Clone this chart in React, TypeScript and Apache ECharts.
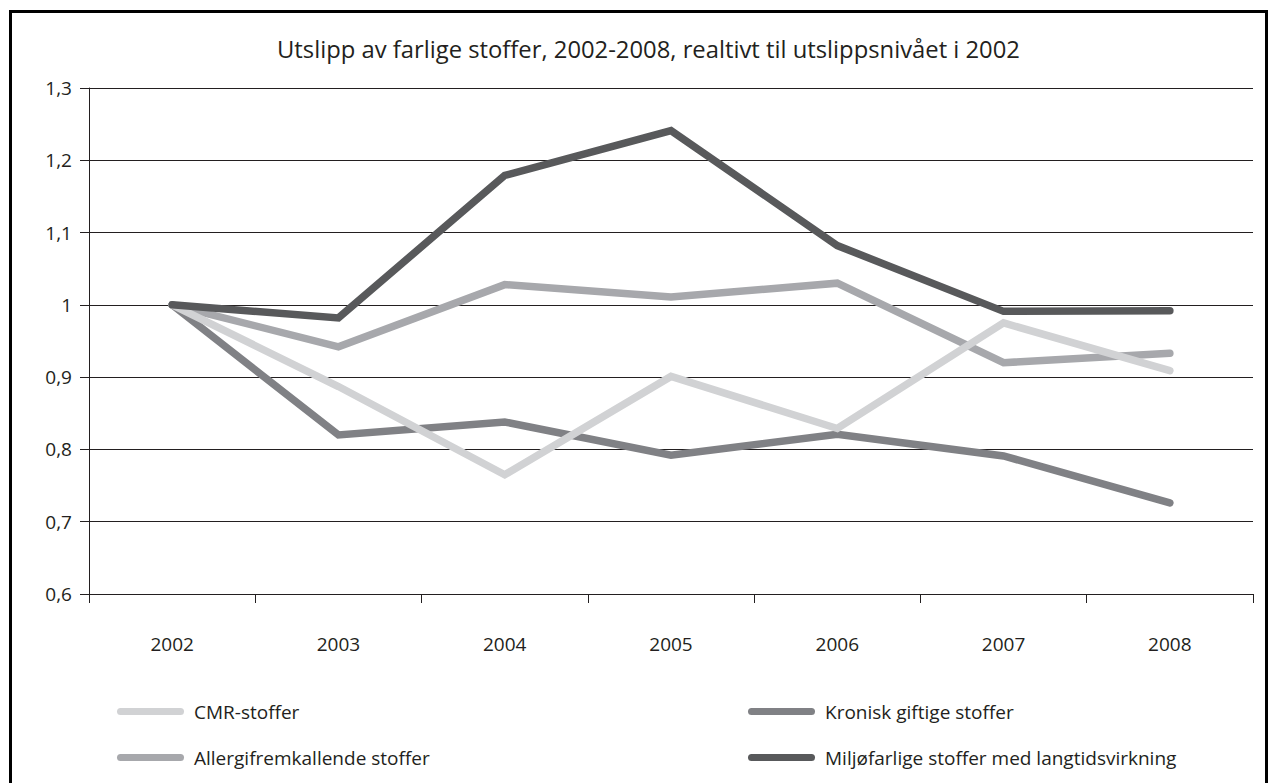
import React, { useEffect, useRef } from "react";
import * as echarts from "echarts";

const years = ["2002", "2003", "2004", "2005", "2006", "2007", "2008"];
const cmr = [1.0, 0.887, 0.765, 0.901, 0.829, 0.975, 0.909];
const kronisk = [1.0, 0.82, 0.838, 0.792, 0.821, 0.791, 0.726];
const allergi = [1.0, 0.942, 1.028, 1.011, 1.03, 0.92, 0.933];
const miljo = [1.0, 0.982, 1.179, 1.241, 1.082, 0.991, 0.992];

const names = [
  "CMR-stoffer",
  "Kronisk giftige stoffer",
  "Allergifremkallende stoffer",
  "Miljøfarlige stoffer med langtidsvirkning",
];
const colors = ["#d1d2d4", "#808185", "#a7a8ac", "#58595b"];
const titleText = "Utslipp av farlige stoffer, 2002-2008, realtivt til utslippsnivået i 2002";

const FONT = "Open Sans";
const capsule = "path://M3.5,0 H63.5 A3.5,3.5 0 0 1 63.5,7 H3.5 A3.5,3.5 0 0 1 3.5,0 Z";

export default function App() {
  const ref = useRef<HTMLDivElement>(null);
  useEffect(() => {
    if (!ref.current) return;
    const chart = echarts.init(ref.current, null, { renderer: "svg" });
    const values = [cmr, kronisk, allergi, miljo];
    const zs = [3, 2, 2, 4];
    chart.setOption({
      animation: false,
      backgroundColor: "#ffffff",
      textStyle: { fontFamily: FONT },
      title: {
        text: titleText,
        left: 277,
        top: 37,
        padding: 0,
        textStyle: { fontFamily: FONT, fontSize: 23.8, fontWeight: "normal", color: "#231f20" },
      },
      graphic: [
        {
          type: "rect",
          shape: { x: 10.5, y: 11.5, width: 1256, height: 800 },
          style: { fill: "none", stroke: "#000", lineWidth: 3 },
          silent: true,
        },
      ],
      grid: { left: 89, right: 23, top: 88, bottom: 189, containLabel: false },
      legend: [
        {
          orient: "vertical",
          left: 112,
          top: 697,
          itemWidth: 67,
          itemHeight: 7,
          itemGap: 27,
          icon: capsule,
          data: [names[0], names[2]],
          textStyle: { fontFamily: FONT, fontSize: 19, color: "#231f20", padding: [0, 0, 0, 5] },
        },
        {
          orient: "vertical",
          left: 743,
          top: 697,
          itemWidth: 67,
          itemHeight: 7,
          itemGap: 27,
          icon: capsule,
          data: [names[1], names[3]],
          textStyle: { fontFamily: FONT, fontSize: 19, color: "#231f20", padding: [0, 0, 0, 5] },
        },
      ],
      xAxis: {
        type: "category",
        data: years,
        boundaryGap: true,
        axisLine: { show: true, lineStyle: { color: "#231f20", width: 1 } },
        axisTick: { show: true, alignWithLabel: false, length: 9, lineStyle: { color: "#231f20" } },
        axisLabel: { margin: 40, fontFamily: FONT, fontSize: 19, color: "#231f20" },
        splitLine: { show: false },
      },
      yAxis: {
        type: "value",
        min: 0.6,
        max: 1.3,
        interval: 0.1,
        axisLine: { show: true, lineStyle: { color: "#231f20", width: 1 } },
        axisTick: { show: true, length: 9, lineStyle: { color: "#231f20" } },
        axisLabel: {
          margin: 17,
          fontFamily: FONT,
          fontSize: 19,
          color: "#231f20",
          formatter: (v: number) => (Math.round(v * 10) / 10).toString().replace(".", ","),
        },
        splitLine: { show: true, lineStyle: { color: "#231f20", width: 1 } },
      },
      series: names.map((n, i) => ({
        name: n,
        type: "line",
        data: values[i],
        z: zs[i],
        symbol: "none",
        showSymbol: false,
        itemStyle: { color: colors[i] },
        lineStyle: { color: colors[i], width: 7.5, cap: "round", join: "miter" },
      })),
    });
    return () => chart.dispose();
  }, []);
  return (
    <div
      ref={ref}
      style={{ position: "fixed", left: 0, top: 0, width: 1276, height: 783 }}
    />
  );
}
